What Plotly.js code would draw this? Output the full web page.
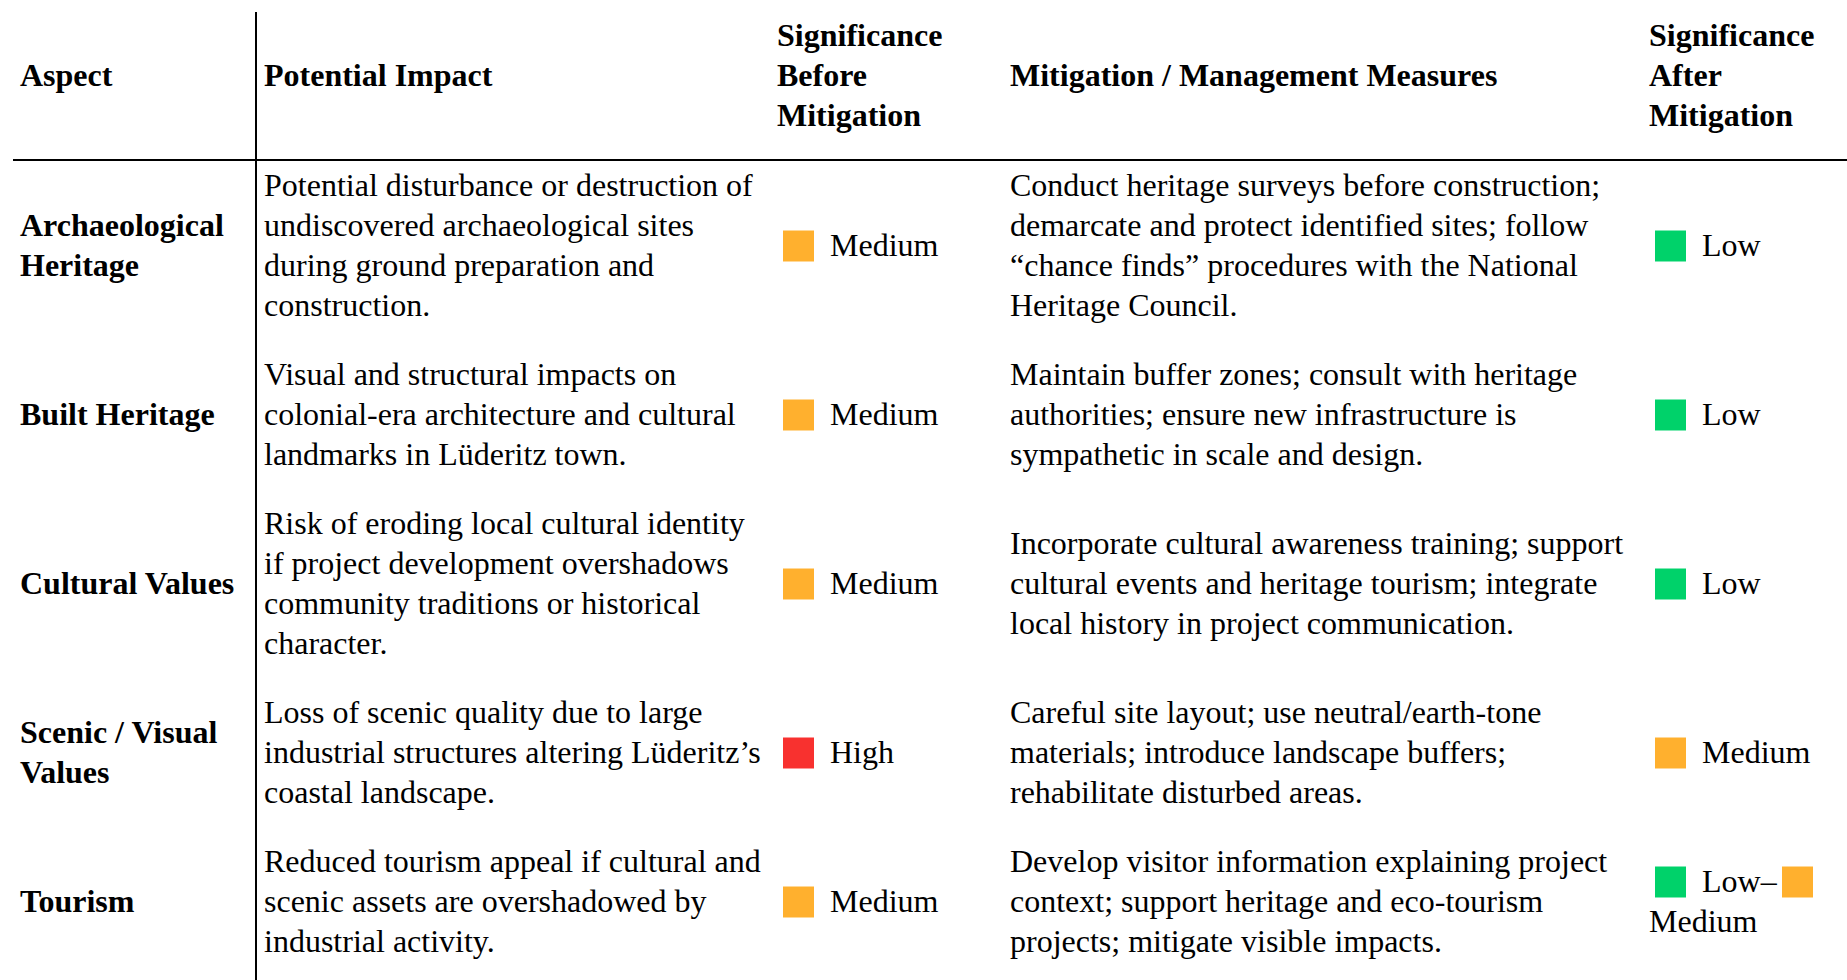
<!DOCTYPE html>
<html>
<head>
<meta charset="utf-8">
<script src="https://cdn.plot.ly/plotly-3.0.1.min.js"></script>
<style>
  html, body { margin: 0; padding: 0; background: #ffffff; }
  #chart { width: 1847px; height: 980px; }
</style>
</head>
<body>
<div id="chart"></div>
<script>
// ---------------- DATA ----------------
const headers = [
  ["Aspect"],
  ["Potential Impact"],
  ["Significance", "Before", "Mitigation"],
  ["Mitigation / Management Measures"],
  ["Significance", "After", "Mitigation"]
];

const aspects = [
  ["Archaeological", "Heritage"],
  ["Built Heritage"],
  ["Cultural Values"],
  ["Scenic / Visual", "Values"],
  ["Tourism"]
];

const impacts = [
  ["Potential disturbance or destruction of", "undiscovered archaeological sites", "during ground preparation and", "construction."],
  ["Visual and structural impacts on", "colonial-era architecture and cultural", "landmarks in Lüderitz town."],
  ["Risk of eroding local cultural identity", "if project development overshadows", "community traditions or historical", "character."],
  ["Loss of scenic quality due to large", "industrial structures altering Lüderitz’s", "coastal landscape."],
  ["Reduced tourism appeal if cultural and", "scenic assets are overshadowed by", "industrial activity."]
];

const significanceBefore = ["Medium", "Medium", "Medium", "High", "Medium"];

const measures = [
  ["Conduct heritage surveys before construction;", "demarcate and protect identified sites; follow", "“chance finds” procedures with the National", "Heritage Council."],
  ["Maintain buffer zones; consult with heritage", "authorities; ensure new infrastructure is", "sympathetic in scale and design."],
  ["Incorporate cultural awareness training; support", "cultural events and heritage tourism; integrate", "local history in project communication."],
  ["Careful site layout; use neutral/earth-tone", "materials; introduce landscape buffers;", "rehabilitate disturbed areas."],
  ["Develop visitor information explaining project", "context; support heritage and eco-tourism", "projects; mitigate visible impacts."]
];

const significanceAfter = ["Low", "Low", "Low", "Medium", "Low–Medium"];

const levelNames = ["Low", "Medium", "High"];
const levelColors = ["#00D26A", "#FFB02E", "#F8312F"];

// ---------------- LAYOUT CONSTANTS ----------------
const W = 1847, H = 980;
const FS = 32;            // font size
const LH = 40;            // line pitch
const GAP = 29;           // vertical padding between rows
const BODY_TOP = 165;     // top of first body row content
const HEAD_MID = 75.3;    // centre of header block
const COLX = [20, 264, 777, 1010, 1649];
const SQ = 31, SQ_OFF = 6, TXT_OFF = 53, SQ_DY = 1;
const FONT = "Liberation Serif, 'Times New Roman', Times, serif";

const annotations = [];
function addText(x, y, s, bold) {
  annotations.push({
    x: x, y: y, xref: "x", yref: "y",
    text: bold ? "<b>" + s + "</b>" : s,
    showarrow: false, xanchor: "left", yanchor: "middle", align: "left",
    borderpad: 0, borderwidth: 0,
    font: { family: FONT, size: FS, color: "#000000" }
  });
}
function addBlock(x, mid, lines, bold) {
  const n = lines.length;
  lines.forEach((s, k) => addText(x, mid + (k - (n - 1) / 2) * LH, s, bold));
}

// headers
headers.forEach((h, c) => addBlock(COLX[c], HEAD_MID, h, true));

// square markers
const sqX = [], sqY = [], sqC = [];
function addSquare(leftX, y, level) {
  sqX.push(leftX + SQ / 2);
  sqY.push(y + SQ_DY);
  sqC.push(levelColors[levelNames.indexOf(level)]);
}
function addLevel(colX, mid, value) {
  const parts = value.split("–");
  if (parts.length === 1) {
    addSquare(colX + SQ_OFF, mid, value);
    addText(colX + TXT_OFF, mid, value, false);
  } else {
    const y1 = mid - LH / 2, y2 = mid + LH / 2;
    addSquare(colX + SQ_OFF, y1, parts[0]);
    addText(colX + TXT_OFF, y1, parts[0] + "–", false);
    addSquare(colX + SQ_OFF + 127, y1, parts[1]);
    addText(colX, y2, parts[1], false);
  }
}

// body rows
let rowTop = BODY_TOP;
for (let i = 0; i < aspects.length; i++) {
  const n = Math.max(aspects[i].length, impacts[i].length, measures[i].length);
  const mid = rowTop + n * LH / 2;
  addBlock(COLX[0], mid, aspects[i], true);
  addBlock(COLX[1], mid, impacts[i], false);
  addLevel(COLX[2], mid, significanceBefore[i]);
  addBlock(COLX[3], mid, measures[i], false);
  addLevel(COLX[4], mid, significanceAfter[i]);
  rowTop += n * LH + GAP;
}

const shapes = [
  { type: "line", xref: "x", yref: "y", x0: 256, x1: 256, y0: 12, y1: H, line: { color: "#000", width: 2 } },
  { type: "line", xref: "x", yref: "y", x0: 13, x1: W, y0: 160, y1: 160, line: { color: "#000", width: 2 } }
];

const trace = {
  type: "scatter", mode: "markers",
  x: sqX, y: sqY,
  marker: { symbol: "square", size: SQ, color: sqC, line: { width: 0 } },
  hoverinfo: "skip", showlegend: false, cliponaxis: false
};

const layout = {
  width: W, height: H, autosize: false,
  margin: { l: 0, r: 0, t: 0, b: 0, pad: 0 },
  paper_bgcolor: "#ffffff", plot_bgcolor: "#ffffff",
  xaxis: { range: [0, W], visible: false, fixedrange: true },
  yaxis: { range: [H, 0], visible: false, fixedrange: true },
  showlegend: false,
  annotations: annotations,
  shapes: shapes
};

Plotly.newPlot("chart", [trace], layout, { staticPlot: true, displayModeBar: false });
</script>
</body>
</html>
